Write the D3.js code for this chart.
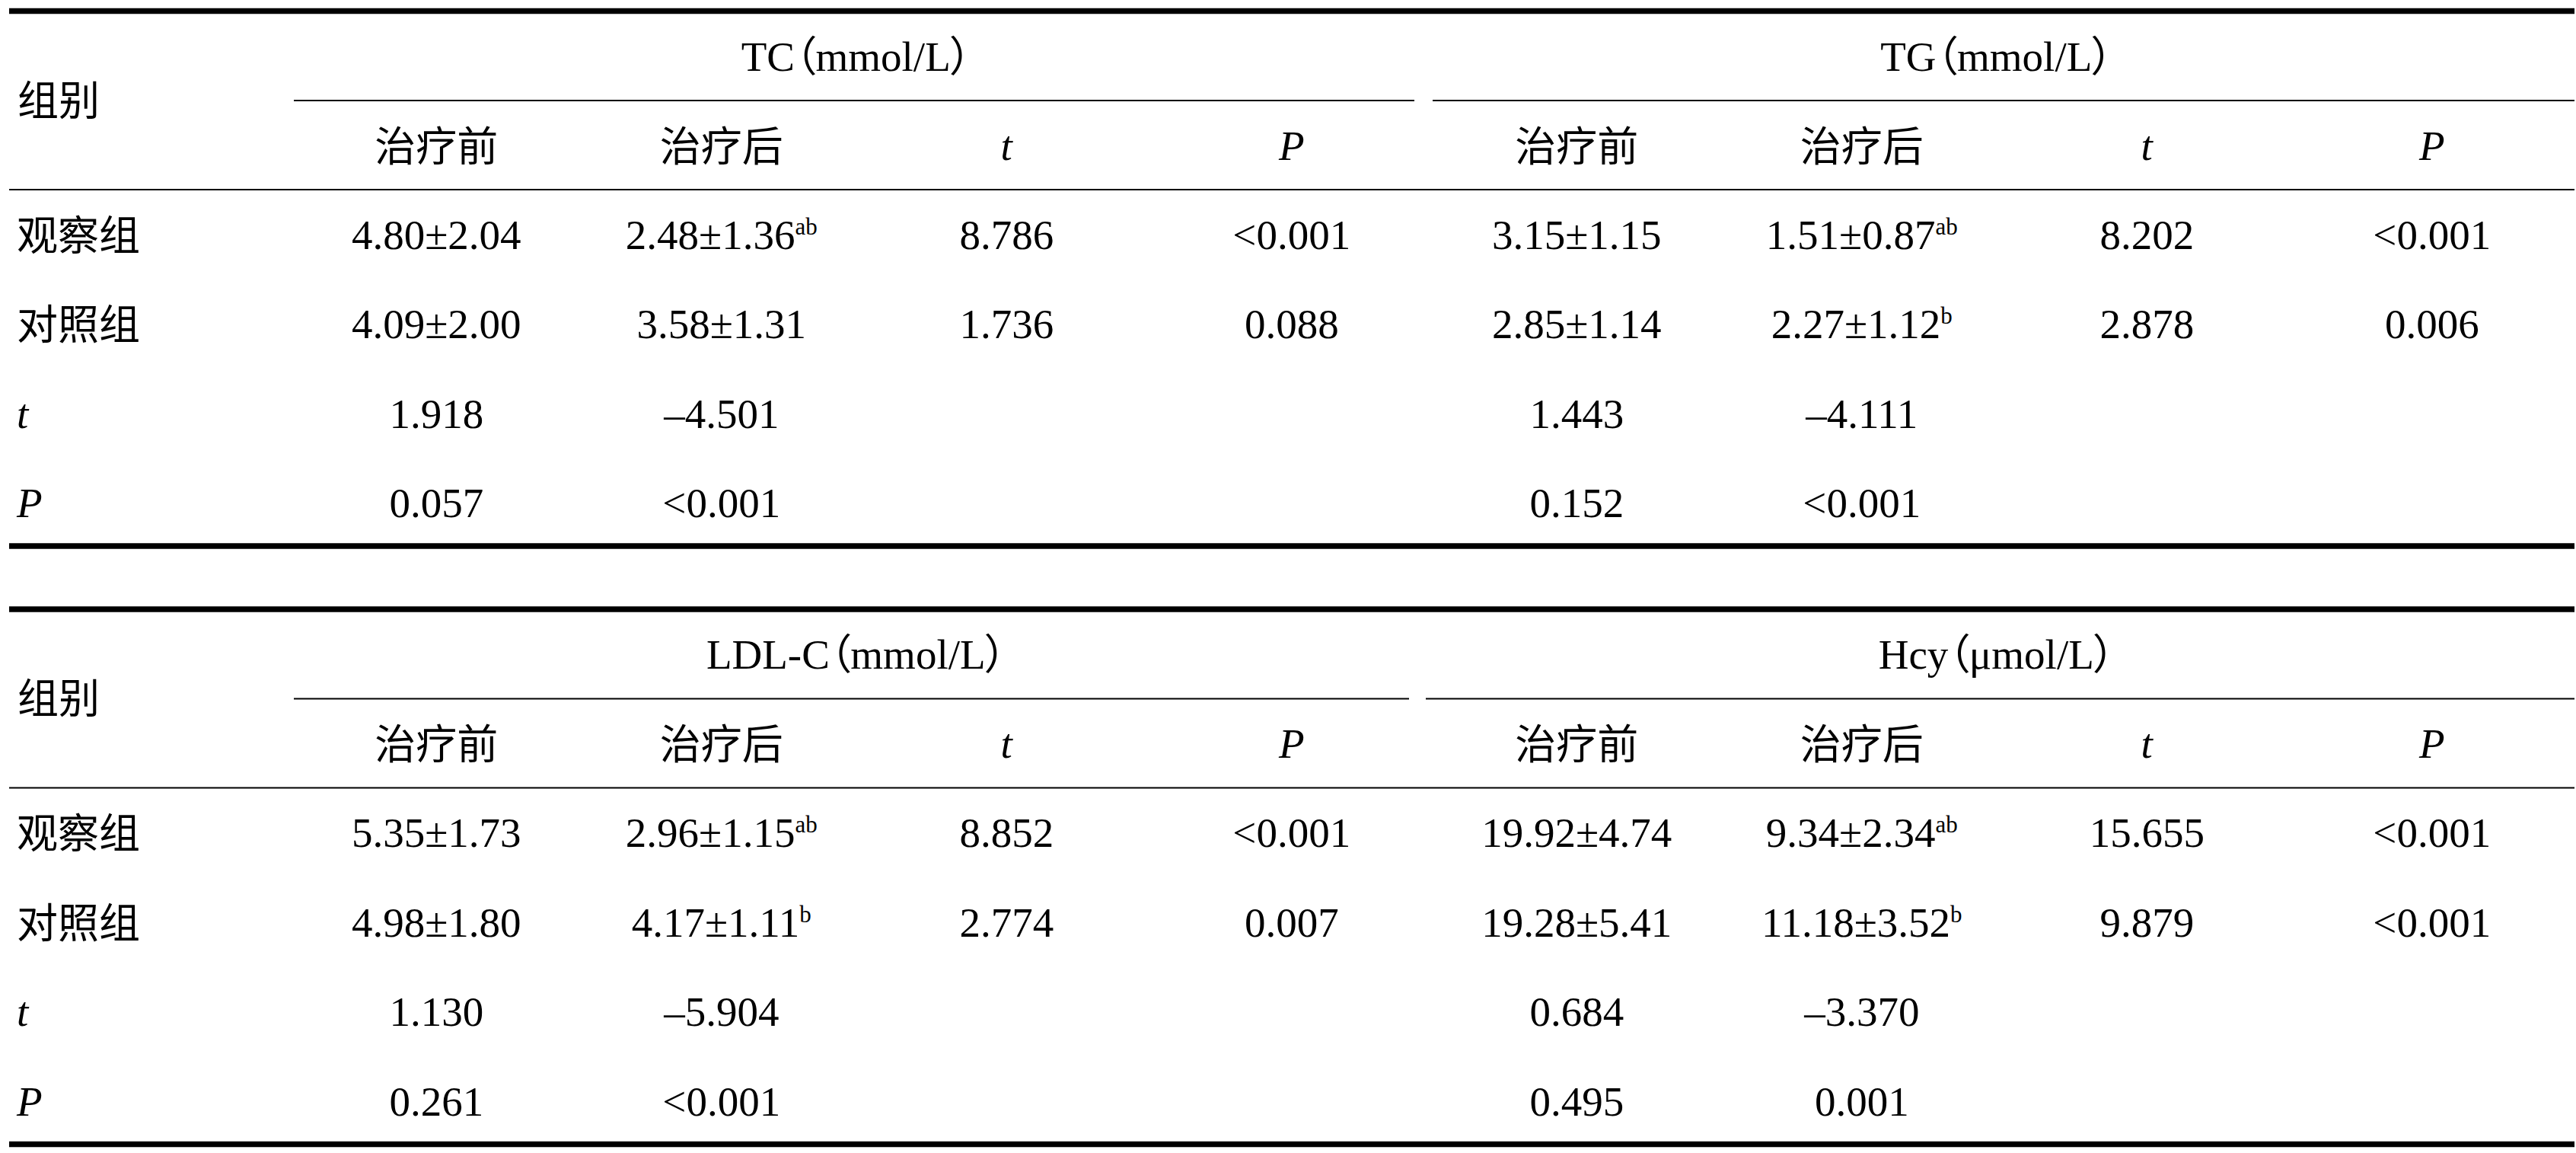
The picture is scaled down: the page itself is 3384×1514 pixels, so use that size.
<!DOCTYPE html>
<html>
<head>
<meta charset="utf-8">
<script src="https://cdn.jsdelivr.net/npm/d3@7"></script>
<style>
  html, body { margin: 0; padding: 0; background: #fff; }
  svg { display: block; }
  .grp { font-feature-settings: "palt" 1; }
</style>
</head>
<body>
<svg id="chart" width="3384" height="1514"></svg>
<script>
// ---------- data ----------
const stubHeader = "组别";
const groupsTable1 = ["TC（mmol/L）", "TG（mmol/L）"];
const groupsTable2 = ["LDL-C（mmol/L）", "Hcy（μmol/L）"];
const subHeaders = ["治疗前", "治疗后", "t", "P", "治疗前", "治疗后", "t", "P"];
const rowLabels = ["观察组", "对照组", "t", "P"];

// "^" marks a superscript suffix
const t1Observe = ["4.80±2.04", "2.48±1.36^ab", "8.786", "<0.001", "3.15±1.15", "1.51±0.87^ab", "8.202", "<0.001"];
const t1Control = ["4.09±2.00", "3.58±1.31", "1.736", "0.088", "2.85±1.14", "2.27±1.12^b", "2.878", "0.006"];
const t1T       = ["1.918", "–4.501", "", "", "1.443", "–4.111", "", ""];
const t1P       = ["0.057", "<0.001", "", "", "0.152", "<0.001", "", ""];

const t2Observe = ["5.35±1.73", "2.96±1.15^ab", "8.852", "<0.001", "19.92±4.74", "9.34±2.34^ab", "15.655", "<0.001"];
const t2Control = ["4.98±1.80", "4.17±1.11^b", "2.774", "0.007", "19.28±5.41", "11.18±3.52^b", "9.879", "<0.001"];
const t2T       = ["1.130", "–5.904", "", "", "0.684", "–3.370", "", ""];
const t2P       = ["0.261", "<0.001", "", "", "0.495", "0.001", "", ""];

// ---------- layout ----------
const W = 3384, H = 1514;
const svg = d3.select("#chart");
svg.append("rect").attr("width", W).attr("height", H).attr("fill", "#fff");

const FONT = "'Liberation Serif', 'Times New Roman', 'Noto Sans CJK SC', serif";
const CJK = "'Noto Sans CJK SC', 'Liberation Serif', sans-serif";
const FS = 55;

const left = 12, right = 3382, dataLeft = 386;
const x = d3.scaleBand().domain(d3.range(subHeaders.length)).range([dataLeft, right]);
const cx = i => x(i) + x.bandwidth() / 2;
const rowY = d3.scaleLinear().domain([0, 1]).range([294, 411.5]); // offsets from table top

const isCJK = s => /[\u4e00-\u9fff]/.test(s);
const isItalic = s => s === "t" || s === "P";

function addText(g, str, xPos, yCenter, anchor) {
  const parts = str.split("^");
  const cjk = isCJK(parts[0]);
  const t = g.append("text")
    .attr("x", xPos)
    .attr("y", yCenter + (cjk ? 20 : 18))
    .attr("text-anchor", anchor)
    .attr("font-family", cjk ? CJK : FONT)
    .attr("font-size", cjk ? 54 : FS)
    .attr("font-style", isItalic(parts[0]) ? "italic" : "normal")
    .attr("fill", "#000");
  t.append("tspan").text(parts[0]);
  if (parts[1]) {
    t.append("tspan").attr("font-size", 31).attr("dy", -19).text(parts[1]);
  }
  return t;
}

function drawTable(top, groups, rows, sepGap) {
  const g = svg.append("g");
  // thick top & bottom rules
  [top, top + 702.5].forEach(yy => {
    g.append("line").attr("x1", left).attr("x2", right).attr("y1", yy).attr("y2", yy)
      .attr("stroke", "#000").attr("stroke-width", 7.5);
  });
  // group headers and their spanning rules
  groups.forEach((name, gi) => {
    const x0 = x(gi * 4), x1 = x(gi * 4 + 3) + x.bandwidth();
    g.append("text").attr("class", "grp")
      .attr("x", (x0 + x1) / 2 - 10).attr("y", top + 78)
      .attr("text-anchor", "middle")
      .attr("font-family", FONT).attr("font-size", FS).attr("fill", "#000")
      .text(name);
    const a = gi === 0 ? x0 : x0 - sepGap[0];
    const b = gi === 0 ? x1 - sepGap[1] : x1;
    g.append("line").attr("x1", a).attr("x2", b)
      .attr("y1", top + 117.5).attr("y2", top + 117.5)
      .attr("stroke", "#000").attr("stroke-width", 2.2);
  });
  // stub header
  addText(g, stubHeader, 23, top + 117, "start");
  // sub headers
  subHeaders.forEach((s, i) => addText(g, s, cx(i), top + 177, "middle"));
  // rule under sub headers
  g.append("line").attr("x1", left).attr("x2", right)
    .attr("y1", top + 234.5).attr("y2", top + 234.5)
    .attr("stroke", "#000").attr("stroke-width", 2.2);
  // body rows
  rows.forEach((vals, ri) => {
    const yc = top + rowY(ri);
    addText(g, rowLabels[ri], 22, yc, "start");
    vals.forEach((v, ci) => { if (v) addText(g, v, cx(ci), yc, "middle"); });
  });
}

drawTable(14.5, groupsTable1, [t1Observe, t1Control, t1T, t1P], [2, 26]);
drawTable(800, groupsTable2, [t2Observe, t2Control, t2T, t2P], [11, 33]);
</script>
</body>
</html>
